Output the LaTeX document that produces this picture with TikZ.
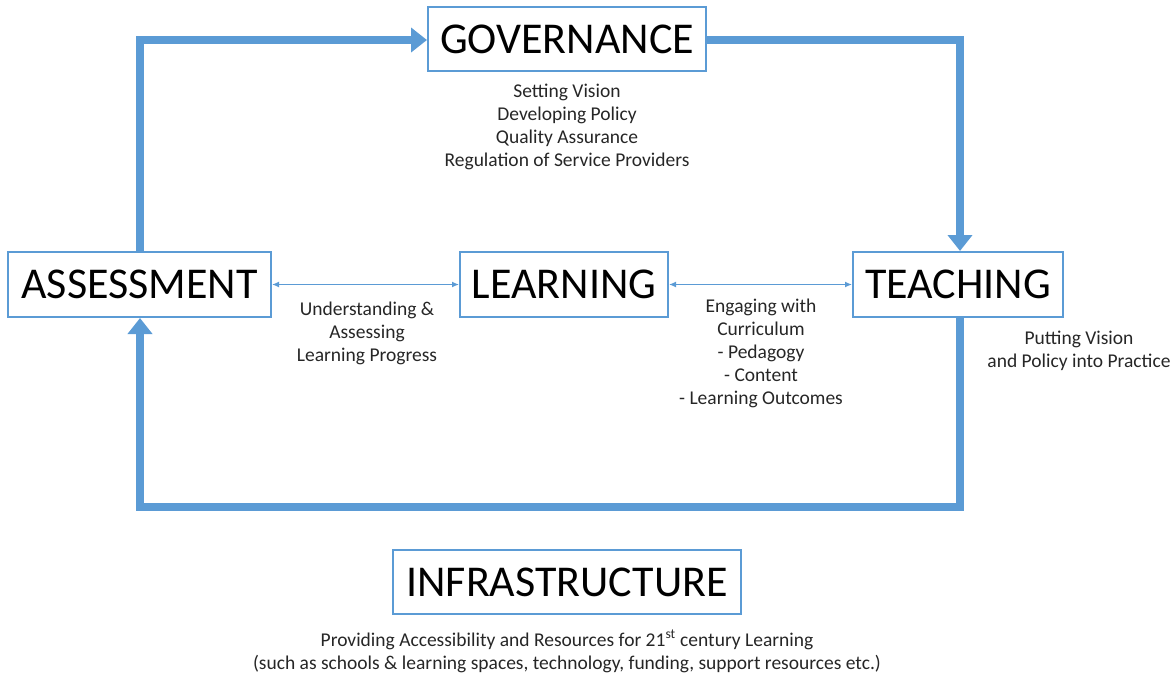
\documentclass[tikz,border=0pt]{standalone}
\usepackage{fontspec}
\setmainfont{Carlito}
\usetikzlibrary{arrows.meta}
\definecolor{officeblue}{HTML}{5B9BD5}
\tikzset{
  titlebox/.style={draw=officeblue, line width=2pt, fill=white, inner sep=0pt,
    font=\fontsize{44}{50}\selectfont, text=black},
  note/.style={align=center, inner sep=0pt, font=\fontsize{19.5}{23}\selectfont, text=black!85},
  cycle/.style={draw=officeblue, line width=7.5pt, -{Triangle[length=16pt,width=24pt]}},
  link/.style={draw=officeblue, line width=1.3pt, {Latex[length=7pt,width=6pt]}-{Latex[length=7pt,width=6pt]}}
}
\begin{document}
\begin{tikzpicture}[x=1pt,y=-1pt]
\useasboundingbox (0,0) rectangle (1175,672);

% the five areas
\node[titlebox, minimum width=278pt, minimum height=64pt] (gov) at (567,39) {GOVERNANCE};
\node[titlebox, minimum width=263pt, minimum height=65pt] (ass) at (139.5,284.5) {ASSESSMENT};
\node[titlebox, minimum width=208pt, minimum height=65pt] (lea) at (564,284.5) {LEARNING};
\node[titlebox, minimum width=210pt, minimum height=65pt] (tea) at (958,284.5) {TEACHING};
\node[titlebox, minimum width=348pt, minimum height=64pt] (inf) at (567,582) {INFRASTRUCTURE};

% bends of the outer cycle
\coordinate (c1) at (140,40);
\coordinate (c2) at (960,40);
\coordinate (c3) at (960,507);
\coordinate (c4) at (140,507);

\draw[cycle] (ass.north -| c1) -- (c1) -- (c1 -| gov.west);
\draw[cycle] (c2 -| gov.east) -- (c2) -- (c2 |- tea.north);
\draw[cycle] (c3 |- tea.south) -- (c3) -- (c4) -- (c4 |- ass.south);

% links between the inner areas
\draw[link] (ass.east) -- (lea.west);
\draw[link] (lea.east) -- (tea.west);

% descriptions
\node[note, anchor=north] (govtxt) at (567,84) {Setting Vision\\Developing Policy\\Quality Assurance\\Regulation of Service Providers};
\node[note, anchor=north] (asstxt) at (367,302) {Understanding \&\\Assessing\\Learning Progress};
\node[note, anchor=north] (teatxt) at (761,299) {Engaging with\\Curriculum\\- Pedagogy\\- Content\\- Learning Outcomes};
\node[note, anchor=north] (puttxt) at (1079,331) {Putting Vision\\and Policy into Practice};
\node[note, anchor=north] (inftxt) at (567,630) {Providing Accessibility and Resources for 21\textsuperscript{st} century Learning\\(such as schools \& learning spaces, technology, funding, support resources etc.)};
\end{tikzpicture}
\end{document}
